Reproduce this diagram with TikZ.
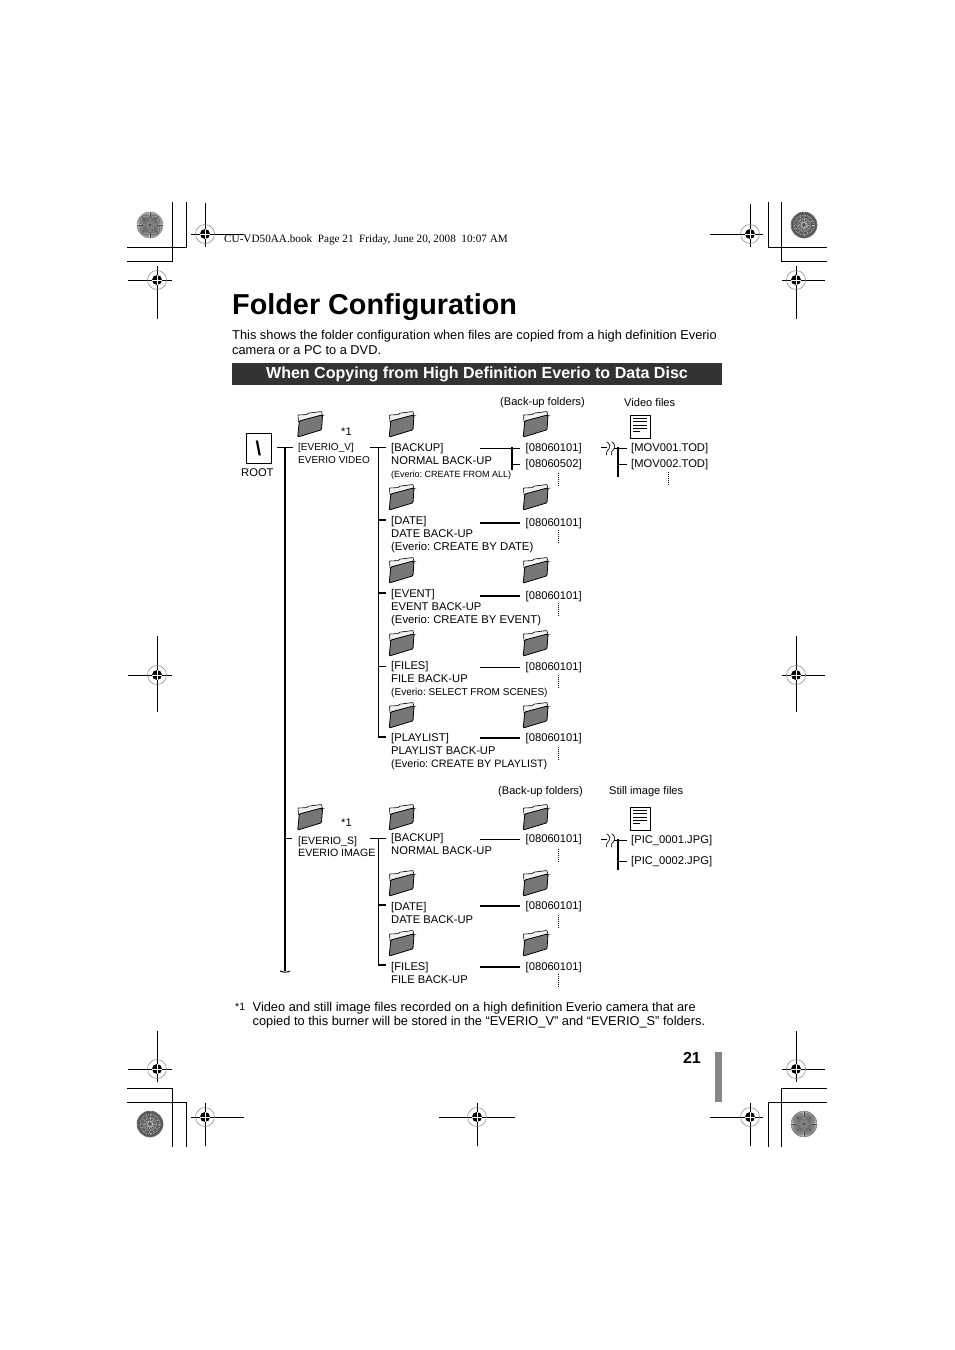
\documentclass[tikz,border=0pt]{standalone}
\usepackage{fontspec}
\setmainfont{Liberation Sans}
\newfontfamily\timesfont{Liberation Serif}
\usetikzlibrary{calc}

\definecolor{barblack}{HTML}{333333}
\definecolor{foldergray}{HTML}{777777}

\tikzset{
    lbl/.style={inner sep=0pt, anchor=north west, align=left, font=\fontsize{11.2}{13}\selectfont},
    lblnote/.style={lbl, font=\fontsize{11.1}{13}\selectfont},
    lblnarrow/.style={lbl, font=\fontsize{10}{13}\selectfont},
    wirethin/.style={line width=1pt},
    wirethick/.style={line width=2pt},
    crop/.style={line width=0.9pt},
    pics/folder/.style={code={
        \draw[line width=0.6pt, fill=gray!10, rounded corners=0.5pt] (1.5,10) -- (1,3) -- (10,2.6) -- (11,1.2) -- (24.5,-0.5) -- (25.5,4) -- cycle;
        \draw[line width=0.8pt, fill=foldergray, rounded corners=1pt] (2.3,9) -- (24,3.2) -- (25.5,3.6) -- (24.5,17.8) -- (0.7,25) -- cycle;
    }},
    pics/docicon/.style={code={
        \draw[line width=0.8pt, fill=white] (0,0) rectangle (20,23);
        \foreach \l in {3.5,6.7,10,13.2}
            \draw[line width=0.6pt] (3,\l) -- (17,\l);
        \draw[line width=0.6pt] (3,16.5) -- (10,16.5);
    }},
    pics/regmark/.style={code={
        \draw[line width=0.5pt, gray] (0,0) circle (9.5);
        \fill (0,0) circle (5);
        \draw[white, line width=0.5pt] (-5,0) -- (5,0) (0,-5) -- (0,5);
    }},
    pics/sunburst/.style={code={
        \fill[gray!35] (0,0) circle (13.3);
        \foreach \a in {0,5,...,355}
            \draw[line width=0.4pt, black!70] (\a:1.5) -- (\a:13.2);
        \fill[gray] (0,0) circle (5);
        \foreach \a in {0,15,...,345}
            \draw[line width=0.3pt, black!50] (\a:1.5) -- (\a:7);
        \fill[black!70] (0,0) circle (1.3);
    }},
    pics/grainburst/.style={code={
        \fill[black!65] (0,0) circle (13.3);
        \foreach \a in {0,10,...,350}
            \draw[line width=0.5pt, gray!60, dash pattern=on 1.5pt off 2pt] (\a:2) -- (\a:13);
        \foreach \a in {5,35,...,335}
            \draw[line width=0.5pt, gray!30, dash pattern=on 1pt off 3pt] (\a:4) -- (\a:12);
    }},
}

\begin{document}
\frenchspacing
\begin{tikzpicture}[x=1pt, y=-1pt]
    \useasboundingbox (0,0) rectangle (954,1350);

    % printer's marks: crop corners
    \draw[crop] (172,202) |- (127,261);
    \draw[crop] (186,202) |- (127,247);
    \draw[crop] (768,202) |- (827,247);
    \draw[crop] (781,202) |- (827,261);
    \draw[crop] (172,1147) |- (127,1088);
    \draw[crop] (186,1147) |- (127,1102);
    \draw[crop] (781,1147) |- (827,1088);
    \draw[crop] (768,1147) |- (827,1102);

    % registration marks: centre x/y, then left/right/up/down reach of the arms
    \foreach \mx/\my/\ml/\mr/\mu/\md in {
        205/234/14/39/31/13, 750/234/40/13/30/13, 157/280/29/15/14/39, 796/280/14/29/14/39,
        157/675/29/15/39/37, 796/675/14/29/39/37, 157/1069/29/15/38/13, 796/1069/14/29/38/13,
        205/1117/14/39/14/29, 477/1117/38/38/14/29, 750/1117/40/13/14/29}{
        \draw[crop] (\mx-\ml,\my) -- (\mx+\mr,\my) (\mx,\my-\mu) -- (\mx,\my+\md);
        \pic at (\mx,\my) {regmark};
    }
    \pic at (150,225) {sunburst};
    \pic at (804,1124) {sunburst};
    \pic at (804,225) {grainburst};
    \pic at (150,1124) {grainburst};

    % page header and text
    \node[inner sep=0pt, anchor=base west, font=\timesfont\fontsize{11.2}{13}\selectfont] (slug) at (224,242) {CU-VD50AA.book\ \ Page 21\ \ Friday, June 20, 2008\ \ 10:07 AM};
    \node[inner sep=0pt, anchor=base west, font=\bfseries\fontsize{28.8}{32}\selectfont] (title) at (232,314) {Folder Configuration};
    \node[inner sep=0pt, anchor=north west, align=left, font=\fontsize{12.82}{14.5}\selectfont] (intro) at (232,330.5) {This shows the folder configuration when files are copied from a high definition Everio\\camera or a PC to a DVD.};
    \fill[barblack] (232,363) rectangle (722,385);
    \node[inner sep=0pt, text=white, font=\bfseries\fontsize{16.05}{18}\selectfont] (heading) at (477,374) {When Copying from High Definition Everio to Data Disc};

    % first tree
    \node[draw, line width=0.9pt, minimum width=25pt, minimum height=30pt, inner sep=0pt, font=\bfseries\fontsize{20}{20}\selectfont] (rootbox) at (258.5,448) {\textbackslash};
    \node[lbl] (rootlbl) at (241,468.5) {ROOT};
    \node[lblnote] (sta) at (341,427.5) {*1};
    \node[lblnote] (bufolders) at (500,397) {(Back-up folders)};
    \node[lblnote] (videofiles) at (624,398) {Video files};
    \pic at (297,412) {folder};
    \pic at (388.5,412) {folder};
    \pic at (388.5,485) {folder};
    \pic at (388.5,558) {folder};
    \pic at (388.5,631) {folder};
    \pic at (388.5,703) {folder};
    \pic at (522.5,412) {folder};
    \pic at (522.5,485) {folder};
    \pic at (522.5,558) {folder};
    \pic at (522.5,631) {folder};
    \pic at (522.5,703) {folder};
    \pic at (630,415) {docicon};

    \node[lblnarrow] (evv) at (298,443.5) {[EVERIO\_V]\\EVERIO VIDEO};
    \node[lbl] (bk) at (391,442.8) {[BACKUP]\\NORMAL BACK-UP\\{\fontsize{9}{13}\selectfont (Everio: CREATE FROM ALL)}};
    \node[lbl] (dt) at (391,515.8) {[DATE]\\DATE BACK-UP\\{\fontsize{11.35}{13}\selectfont (Everio: CREATE BY DATE)}};
    \node[lbl] (ev) at (391,588.8) {[EVENT]\\EVENT BACK-UP\\{\fontsize{11.3}{13}\selectfont (Everio: CREATE BY EVENT)}};
    \node[lbl] (fl) at (391,661.5) {[FILES]\\FILE BACK-UP\\{\fontsize{10.05}{13}\selectfont (Everio: SELECT FROM SCENES)}};
    \node[lbl] (pl) at (391,732.8) {[PLAYLIST]\\PLAYLIST BACK-UP\\{\fontsize{10.75}{13}\selectfont (Everio: CREATE BY PLAYLIST)}};

    \node[lbl] (bka) at (525.5,442.8) {[08060101]};
    \node[lbl] (bkb) at (525.5,458.8) {[08060502]};
    \node[lbl] (dta) at (525.5,518) {[08060101]};
    \node[lbl] (eva) at (525.5,591) {[08060101]};
    \node[lbl] (fla) at (525.5,662) {[08060101]};
    \node[lbl] (pla) at (525.5,732.8) {[08060101]};
    \node[lbl] (mova) at (631,442.8) {[MOV001.TOD]};
    \node[lbl] (movb) at (631,458.8) {[MOV002.TOD]};

    % second tree
    \node[lblnote] (stb) at (341,819) {*1};
    \node[lblnote] (bufoldersb) at (498,786) {(Back-up folders)};
    \node[lblnote] (stillfiles) at (609,786) {Still image files};
    \pic at (297,805) {folder};
    \pic at (388.5,805) {folder};
    \pic at (388.5,871) {folder};
    \pic at (388.5,931) {folder};
    \pic at (522.5,805) {folder};
    \pic at (522.5,871) {folder};
    \pic at (522.5,931) {folder};
    \pic at (630,807) {docicon};

    \node[lblnarrow, font=\fontsize{10.6}{12}\selectfont] (evs) at (298,836.5) {[EVERIO\_S]\\EVERIO IMAGE};
    \node[lbl] (bks) at (391,832.8) {[BACKUP]\\NORMAL BACK-UP};
    \node[lbl] (dts) at (391,901.8) {[DATE]\\DATE BACK-UP};
    \node[lbl] (fls) at (391,961.8) {[FILES]\\FILE BACK-UP};
    \node[lbl] (bksa) at (525.5,833.8) {[08060101]};
    \node[lbl] (dtsa) at (525.5,900.8) {[08060101]};
    \node[lbl] (flsa) at (525.5,962) {[08060101]};
    \node[lbl] (pica) at (631,834.8) {[PIC\_0001.JPG]};
    \node[lbl] (picb) at (631,855.8) {[PIC\_0002.JPG]};

    % named corners of the trunks
    \coordinate (maintop) at (285,447);
    \coordinate (mainend) at (285,971);
    \coordinate (trunktop) at (378,447);
    \coordinate (trunkend) at (378,737);
    \coordinate (trunkstop) at (378,838);
    \coordinate (trunksend) at (378,965);

    \draw[wirethin] (rootbox.east |- maintop) ++(6,0) -- ($(evv.west |- maintop)+(-5,0)$);
    \draw[wirethick] (maintop) -- (mainend);
    \draw[wirethin] (mainend) ++(-5,0) .. controls ++(3,1.5) and ++(-2,1.5) .. ++(10,0);
    \draw[wirethin] (285,838) -- (292,838);

    \draw[wirethin] ($(trunktop)+(-8,0)$) -- ($(trunktop)+(8,0)$);
    \draw[wirethin] (trunktop) -- (trunkend);
    \foreach \y/\w in {520/wirethick, 593/wirethick, 666/wirethin, 737/wirethick}
        \draw[\w] (377.5,\y) -- (386,\y);
    \draw[wirethin] ($(trunkstop)+(-8,0)$) -- ($(trunkstop)+(8,0)$);
    \draw[wirethin] (trunkstop) -- (trunksend);
    \foreach \y in {905,965}
        \draw[wirethick] (377.5,\y) -- (386,\y);

    % folder to date folder
    \draw[wirethin] ($(bka.west)+(-45.5,0)$) -- ($(bka.west)+(-5.5,0)$);
    \draw[wirethick] (512,447) -- (512,470);
    \draw[wirethin] ($(bkb.west)+(-13.5,0)$) -- ($(bkb.west)+(-5.5,0)$);
    \draw[wirethick] ($(dta.west)+(-45.5,0)$) -- ($(dta.west)+(-5.5,0)$);
    \draw[wirethick] ($(eva.west)+(-45.5,0)$) -- ($(eva.west)+(-5.5,0)$);
    \draw[wirethin] ($(fla.west)+(-45.5,0)$) -- ($(fla.west)+(-5.5,0)$);
    \draw[wirethick] ($(pla.west)+(-45.5,0)$) -- ($(pla.west)+(-5.5,0)$);
    \draw[wirethin] ($(bksa.west)+(-45.5,0)$) -- ($(bksa.west)+(-5.5,0)$);
    \draw[wirethick] ($(dtsa.west)+(-45.5,0)$) -- ($(dtsa.west)+(-5.5,0)$);
    \draw[wirethick] ($(flsa.west)+(-45.5,0)$) -- ($(flsa.west)+(-5.5,0)$);

    % break symbol and file branches
    \foreach \y/\e/\fa/\fb in {447/477/mova/movb, 839/870/pica/picb}{
        \draw[wirethin] (601,\y) -- (607,\y);
        \draw[wirethin] ($(\fa.west)+(-17,0)$) -- ($(\fa.west)+(-4,0)$);
        \draw[line width=0.6pt] (606.7,\y-5.3) .. controls (610,\y-3) and (611,\y) .. (608,\y+3) .. controls (606,\y+5) and (606,\y+6) .. (606.5,\y+8);
        \draw[line width=0.6pt] (611.7,\y-5.3) .. controls (615,\y-3) and (616,\y) .. (613,\y+3) .. controls (611,\y+5) and (611,\y+6) .. (611.5,\y+8);
        \draw[wirethick] (618,\y) -- (618,\e);
        \draw[wirethin] ($(\fb.west)+(-13,0)$) -- ($(\fb.west)+(-4,0)$);
    }

    % continuation dots
    \foreach \x/\y in {558/473, 558/530, 558/603, 558/675, 558/747, 558/849, 558/915, 558/974, 668/472}
        \draw[line width=0.7pt, dash pattern=on 1pt off 1pt] (\x,\y) -- (\x,\y+14);

    % footnote and page number
    \node[inner sep=0pt, anchor=base west, font=\fontsize{10.6}{13}\selectfont] (fnmark) at (235,1010) {*1};
    \node[inner sep=0pt, anchor=north west, align=left, font=\fontsize{12.82}{14.5}\selectfont] (footnote) at (252.5,1001.5) {Video and still image files recorded on a high definition Everio camera that are\\copied to this burner will be stored in the “EVERIO\_V” and “EVERIO\_S” folders.};
    \node[inner sep=0pt, anchor=base east, font=\bfseries\fontsize{16}{18}\selectfont] (pageno) at (701,1063) {21};
    \fill[gray!95] (715,1052) rectangle (722,1102);
\end{tikzpicture}
\end{document}
